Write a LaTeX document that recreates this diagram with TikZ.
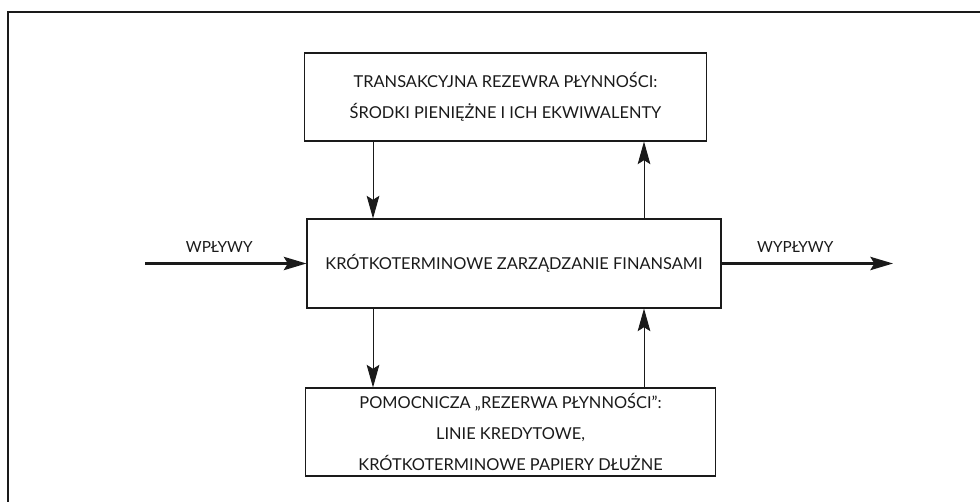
\documentclass[tikz,border=0pt]{standalone}
\usepackage{fontspec}
\setmainfont{Lato}
\usetikzlibrary{arrows.meta}
\definecolor{fin-ink}{HTML}{1A1A1A}

\begin{document}
\begin{tikzpicture}[x=0.75pt, y=-0.75pt,
    box/.style={draw=fin-ink, line width=0.8pt, align=center, inner sep=0pt,
      font=\fontsize{12.3}{23}\selectfont, text=fin-ink},
    flow/.style={-{Stealth[length=17pt,width=9.5pt,inset=3pt]}, line width=0.75pt, draw=fin-ink},
    bigflow/.style={-{Stealth[length=17pt,width=10pt,inset=3pt]}, line width=1.6pt, draw=fin-ink},
    lbl/.style={font=\fontsize{11.5}{13}\selectfont, text=fin-ink}]
    \useasboundingbox (0,0) rectangle (980,502);
    \draw[line width=1.2pt, fin-ink] (8,510) -- (8,12) -- (990,12);
    % boxes
    \node[box, minimum width=301pt, minimum height=66pt] (top) at (505.5,97)
        {TRANSAKCYJNA REZEWRA PŁYNNOŚCI:\\ŚRODKI PIENIĘŻNE I ICH EKWIWALENTY};
    \node[box, minimum width=310.5pt, minimum height=66.75pt] (mid) at (514,263.5)
        {KRÓTKOTERMINOWE ZARZĄDZANIE FINANSAMI};
    \node[box, minimum width=308pt, minimum height=66pt] (low) at (510.5,432)
        {POMOCNICZA „REZERWA PŁYNNOŚCI”:\\LINIE KREDYTOWE,\\KRÓTKOTERMINOWE PAPIERY DŁUŻNE};
    % flows between the boxes
    \coordinate (ldown) at (373,0);
    \coordinate (rup) at (644,0);
    \draw[flow] (top.south -| ldown) -- (mid.north -| ldown);
    \draw[flow] (mid.north -| rup) -- (top.south -| rup);
    \draw[flow] (mid.south -| ldown) -- (low.north -| ldown);
    \draw[flow] (low.north -| rup) -- (mid.south -| rup);
    % inflow and outflow
    \coordinate (in) at (145,263.5);
    \coordinate (out) at (893,263.5);
    \draw[bigflow] (in) -- (mid.west) node[lbl, pos=0.46, above=4pt] {WPŁYWY};
    \draw[bigflow] (mid.east) -- (out) node[lbl, pos=0.43, above=4pt] {WYPŁYWY};
\end{tikzpicture}
\end{document}
